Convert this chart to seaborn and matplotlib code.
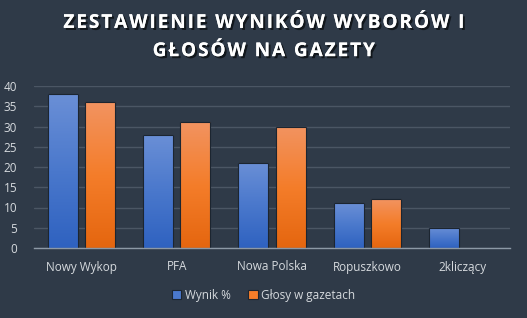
import numpy as np
import pandas as pd
import matplotlib
matplotlib.use("Agg")
import matplotlib.pyplot as plt
import matplotlib.patheffects as pe
from matplotlib.colors import LinearSegmentedColormap
from matplotlib.patches import Patch
import seaborn as sns

categories = ["Nowy Wykop", "PFA", "Nowa Polska", "Ropuszkowo", "2kliczący"]
wynik = [38, 28, 21, 11, 5]
glosy = [36, 31, 30, 12, 0]
series_names = ["Wynik %", "Głosy w gazetach"]
title_lines = ["ZESTAWIENIE WYNIKÓW WYBORÓW I", "GŁOSÓW NA GAZETY"]

df = pd.DataFrame({
    "kategoria": categories * 2,
    "wartosc": wynik + glosy,
    "seria": [series_names[0]] * len(categories) + [series_names[1]] * len(categories),
})

BG = "#2f3a48"
sns.set_theme(style="dark")
plt.rcParams["font.family"] = ["Open Sans", "DejaVu Sans"]

fig = plt.figure(figsize=(5.27, 3.18), dpi=100, facecolor=BG)
ax = fig.add_axes([34 / 527, 1 - 248 / 318, 476 / 527, 162 / 318])
ax.set_facecolor(BG)

palette = {series_names[0]: "#4a78cc", series_names[1]: "#f47d2a"}
sns.barplot(data=df, x="kategoria", y="wartosc", hue="seria", palette=palette,
            width=0.78, gap=0.19, ax=ax, legend=False, saturation=1,
            edgecolor="#1c2530", linewidth=0.8)

grads = {
    series_names[0]: LinearSegmentedColormap.from_list("b", ["#2f62c0", "#4a78cc", "#6a8fd6"]),
    series_names[1]: LinearSegmentedColormap.from_list("o", ["#e5660f", "#f47d2a", "#f29360"]),
}
n = len(categories)
for i, bar in enumerate(ax.patches[:2 * n]):
    s = series_names[i // n]
    h = bar.get_height()
    if h <= 0:
        bar.set_visible(False)
        continue
    x0 = bar.get_x()
    w = bar.get_width()
    grad = np.linspace(0, 1, 100).reshape(-1, 1)
    im = ax.imshow(grad, cmap=grads[s], origin="lower", aspect="auto",
                   extent=[x0, x0 + w, 0, h], zorder=bar.get_zorder() + 0.1)
    im.set_clip_path(bar)
    bar.set_facecolor("none")
    bar.set_zorder(bar.get_zorder() + 0.2)

ax.set_xlim(-0.5, n - 0.5)
ax.set_ylim(0, 40)
ax.set_yticks(range(0, 41, 5))
ax.yaxis.grid(True, color="#4b5664", linewidth=1)
ax.xaxis.grid(False)
ax.set_axisbelow(True)
for sp in ["top", "right", "left"]:
    ax.spines[sp].set_visible(False)
ax.spines["bottom"].set_color("#8d99a6")
ax.spines["bottom"].set_linewidth(1)
ax.set_xlabel("")
ax.set_ylabel("")
ax.tick_params(axis="both", length=0, colors="#d6dade", labelsize=8.5)
ax.tick_params(axis="x", pad=9)
ax.tick_params(axis="y", pad=12)

spaced = "\n".join("\u200a".join(line) for line in title_lines)
fig.text(0.5, 1 - 37 / 318, spaced, ha="center", va="center", color="white",
         fontsize=13.7, fontweight="bold", linespacing=1.55,
         path_effects=[pe.withSimplePatchShadow(offset=(1.5, -1.5), shadow_rgbFace="black", alpha=0.6),
                       pe.Normal()])

handles = [Patch(facecolor=palette[s], edgecolor="#1c2530", linewidth=0.8) for s in series_names]
fig.legend(handles, series_names, loc="center", bbox_to_anchor=(0.5, 1 - 295 / 318),
           ncol=2, frameon=False, fontsize=8.5, handlelength=0.8, handleheight=0.8,
           handletextpad=0.3, columnspacing=1.5, labelcolor="#d6dade")

fig.savefig("out.png", dpi=100, facecolor=BG)
